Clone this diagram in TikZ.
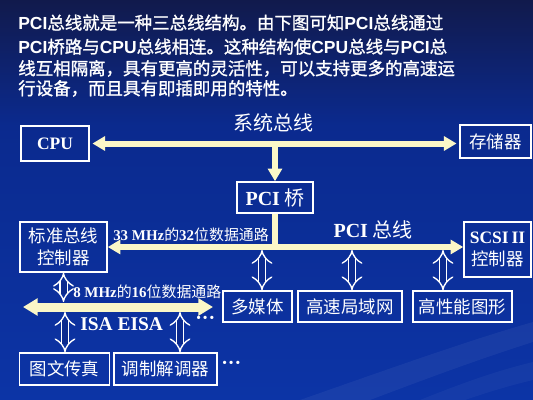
\documentclass[tikz,border=0pt]{standalone}
\usepackage{fontspec}
\setmainfont{Noto Sans CJK SC}
\newfontfamily\tms{Liberation Serif}
\newfontfamily\ars{Liberation Sans}
\newfontfamily\cjkb[FakeBold=1.2]{Noto Sans CJK SC}
\usetikzlibrary{arrows.meta,calc,positioning}
\definecolor{bgTop}{HTML}{111A4C}
\definecolor{bgMid}{HTML}{0B2A8E}
\definecolor{bgBot}{HTML}{0C34A6}
\definecolor{busC}{HTML}{FBF7C8}
\newcommand\en[1]{{\tms\bfseries #1}}
\newcommand\ti[1]{{\ars\bfseries #1}}
\tikzset{
  box/.style={draw=white, line width=1.2pt, inner sep=0pt, align=center, text=white,
              font=\fontsize{13.1pt}{16.4pt}\selectfont},
  sz/.style 2 args={minimum width=#1*0.75pt, minimum height=#2*0.75pt},
  bus/.style={draw=busC, line width=4.5pt},
  tri/.tip={Triangle[length=9.5pt,width=10.5pt]},
  trib/.tip={Triangle[length=11pt,width=12.5pt]},
  hol/.style={draw=white, line width=1pt, double=bgMid, double distance=4.5pt, {Implies}-{Implies}},
  lab/.style={text=white, inner sep=0pt},
  bigtxt/.style={lab, font=\fontsize{15pt}{18pt}\selectfont},
  smalltxt/.style={lab, anchor=west, font=\fontsize{11.2pt}{13pt}\selectfont},
  ttl/.style={lab, anchor=base west, font=\fontsize{13.1pt}{16pt}\selectfont\cjkb},
}

\begin{document}
\begin{tikzpicture}[x=0.75pt, y=-0.75pt]
\useasboundingbox (0,0) rectangle (533,400);
% background
\fill[top color=bgTop, bottom color=bgMid] (0,0) rectangle (533,125);
\fill[top color=bgMid, bottom color=bgBot] (0,125) rectangle (533,400);
\fill[white, opacity=0.05] (300,400) .. controls (400,365) and (470,340) .. (533,322)
  -- (533,342) .. controls (470,362) and (410,385) .. (370,400) -- cycle;
\fill[white, opacity=0.04] (420,400) .. controls (470,380) and (500,370) .. (533,362)
  -- (533,380) .. controls (500,388) and (480,395) .. (465,400) -- cycle;
% heading
\node[ttl] (t1) at (18,29.3) {\ti{PCI}总线就是一种三总线结构。由下图可知\ti{PCI}总线通过};
\node[ttl] (t2) at (18,53.3) {\ti{PCI}桥路与\ti{CPU}总线相连。这种结构使\ti{CPU}总线与\ti{PCI}总};
\node[ttl] (t3) at (18,74.9) {线互相隔离，具有更高的灵活性，可以支持更多的高速运};
\node[ttl] (t4) at (18,94.9) {行设备，而且具有即插即用的特性。};
% units
\node[box, sz={68}{35}]  (cpu)    at (55,143.5)   {\en{CPU}};
\node[box, sz={71}{33}]  (mem)    at (495.5,141.5) {存储器};
\node[box, sz={76}{31}, font=\fontsize{15pt}{18pt}\selectfont] (bridge) at (275,197.5) {\en{PCI} 桥};
\node[box, sz={87}{50}]  (std)    at (63.5,247)   {标准总线\\控制器};
\node[box, sz={67}{55}]  (scsi)   at (497.5,249.5) {\en{SCSI\,II}\\控制器};
\node[box, sz={69}{31}]  (mm)     at (257.5,306.5) {多媒体};
\node[box, sz={104}{31}] (lan)    at (350,306.5)  {高速局域网};
\node[box, sz={99}{31}]  (gfx)    at (462.5,306.5) {高性能图形};
\node[box, sz={90}{32}]  (fax)    at (64.5,369)   {图文传真};
\node[box, sz={103}{32}] (modem)  at (165.5,369)  {调制解调器};
% buses
\draw[bus, shorten <=2pt, shorten >=2pt, tri-tri] (cpu.east) -- (cpu.east -| mem.west);
\draw[bus, -tri] (cpu.east -| bridge.north) -- (bridge.north);
\draw[bus] (bridge.south) -- (bridge.south |- std.east);
\draw[bus, tri-tri] (std.east) -- (std.east -| scsi.west);
\node[bigtxt] (sysbus) at (273,123) {系统总线};
\node[bigtxt] (pcibus) at (373,230) {\en{PCI} 总线};
\node[smalltxt] (w32) at (113,235) {\en{33 MHz}的\en{32}位数据通路};
\coordinate (h1) at (262,250);
\coordinate (h2) at (352,250);
\coordinate (h3) at (443,250);
\foreach \h/\b in {h1/mm, h2/lan, h3/gfx} \draw[hol] (\h) -- (\h |- \b.north);
% ISA side
\coordinate (isaW) at (23,307);
\coordinate (isaE) at (213,307);
\draw[bus, line width=6.75pt, trib-trib] (isaW) -- (isaE);
\coordinate (i0) at (65,302);
\coordinate (i1) at (65,312);
\coordinate (i2) at (180,312);
\draw[hol] (std.south) -- (std.south |- i0);
\draw[hol] (i1) -- (i1 |- fax.north);
\draw[hol] (i2) -- (i2 |- modem.north);
\node[smalltxt] (w16) at (73,292) {\en{8 MHz}的\en{16}位数据通路};
\node[lab, anchor=west, font=\fontsize{14.6pt}{17pt}\selectfont] (isa) at (80,324) {\en{ISA EISA}};
\node[lab, anchor=west, font=\fontsize{15pt}{17pt}\selectfont] (more1) at (195,320) {\en{···}};
\node[lab, anchor=west, font=\fontsize{15pt}{17pt}\selectfont] (more2) at (221,365) {\en{···}};
\end{tikzpicture}
\end{document}
